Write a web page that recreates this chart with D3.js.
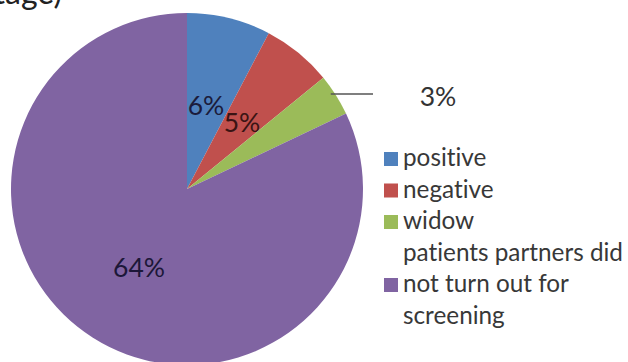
<!DOCTYPE html>
<html>
<head>
<meta charset="utf-8">
<script src="https://cdn.jsdelivr.net/npm/d3@7"></script>
<style>
  html, body { margin: 0; padding: 0; background: #fff; }
  svg { display: block; }
  text { font-family: Lato, "Open Sans", sans-serif; font-variant-ligatures: none; font-feature-settings: "liga" 0; }
</style>
</head>
<body>
<svg id="chart" width="628" height="362"></svg>
<script>
// Screening outcome of patients' partners
const categories = ["positive", "negative", "widow", "patients partners did not turn out for screening"];
const values = [6, 5, 3, 64];
const valueLabels = ["6%", "5%", "3%", "64%"];
const colors = ["#4F81BD", "#C0504D", "#9BBB59", "#8064A2"];
const legendLines = [["positive"], ["negative"], ["widow"], ["patients partners did", "not turn out for", "screening"]];

const svg = d3.select("#chart");
const cx = 187, cy = 189, r = 176;

// Title line partly above the top edge
svg.append("text")
  .attr("x", 62).attr("y", 4)
  .attr("text-anchor", "end")
  .attr("font-size", 32)
  .attr("fill", "#222")
  .text("(in percentage)");

const pie = d3.pie().sort(null).value(d => d)(values);
const arc = d3.arc().innerRadius(0).outerRadius(r);

const g = svg.append("g").attr("transform", `translate(${cx},${cy})`);
g.selectAll("path.slice")
  .data(pie)
  .join("path")
  .attr("class", "slice")
  .attr("d", arc)
  .attr("fill", (d, i) => colors[i]);

// Percentage label size: "64%" spans about 52px
const probe = svg.append("text").attr("font-size", 20).text("64%");
const fs = 20 * 52 / probe.node().getComputedTextLength();
probe.remove();

// In-slice labels, placed inside their slices
const labelSpots = [
  { x: 206, y: 105, color: "#1b1c3c" },
  { x: 242, y: 122, color: "#3a1414" },
  null,
  { x: 139, y: 267, color: "#1c1738" }
];
pie.forEach((d, i) => {
  const p = labelSpots[i];
  if (!p) return;
  g.append("text")
    .attr("x", p.x - cx).attr("y", p.y - cy)
    .attr("text-anchor", "middle")
    .attr("dominant-baseline", "central")
    .attr("font-size", fs)
    .attr("fill", p.color)
    .text(valueLabels[i]);
});

// Callout for the small slice
const small = pie[2];
const sa = (small.startAngle + small.endAngle) / 2;
const ex = cx + Math.sin(sa) * r;
svg.append("line")
  .attr("x1", ex - 5).attr("y1", 94)
  .attr("x2", 373).attr("y2", 94)
  .attr("stroke", "#555").attr("stroke-width", 1.5);
svg.append("text")
  .attr("x", 438).attr("y", 96)
  .attr("text-anchor", "middle")
  .attr("dominant-baseline", "central")
  .attr("font-size", fs)
  .attr("fill", "#333")
  .text(valueLabels[2]);

// Legend
const lx = 384, tx = 403, lineH = 31.5, firstBase = 166;
const legend = svg.append("g");
let row = 0;
legendLines.forEach((lines, i) => {
  // square sits beside the middle line of a multi-line entry
  const markRow = lines.length > 1 ? row + 1 : row;
  lines.forEach((t, k) => {
    legend.append("text")
      .attr("class", "ltext")
      .attr("x", tx)
      .attr("y", firstBase + (row + k) * lineH)
      .attr("font-size", 20)
      .attr("fill", "#383838")
      .text(t);
  });
  legend.append("rect")
    .attr("x", lx).attr("y", firstBase + markRow * lineH - 14)
    .attr("width", 14).attr("height", 14)
    .attr("fill", colors[i]);
  row += lines.length;
});
// size the legend text so the longest line spans to the right margin
const longest = legend.selectAll("text.ltext").nodes()
  .reduce((m, n) => Math.max(m, n.getComputedTextLength()), 0);
legend.selectAll("text.ltext").attr("font-size", 20 * 220 / longest);
</script>
</body>
</html>
